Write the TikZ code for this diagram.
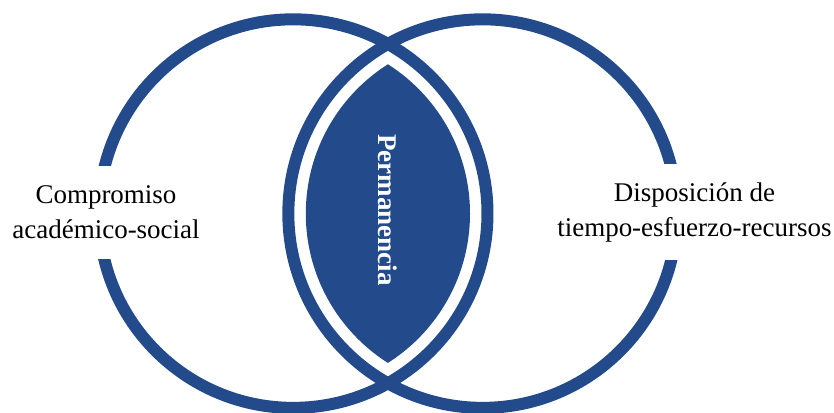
\documentclass[tikz,border=0pt]{standalone}
\usepackage{fontspec}
\setmainfont{Liberation Serif}
\usetikzlibrary{positioning}
\definecolor{perm}{HTML}{234B8C}

\begin{document}
\begin{tikzpicture}
  \useasboundingbox (0,0) rectangle (20.85,10.3);
  \coordinate (cL) at (7.33,4.96);
  \coordinate (cR) at (12.065,4.96);

  % the two rings
  \draw[perm,line width=0.3cm] (cL) circle (4.857);
  \draw[perm,line width=0.3cm] (cR) circle (4.857);

  % lens in the middle
  \begin{scope}
    \clip (cL) circle (4.42);
    \fill[perm] (cR) circle (4.42);
  \end{scope}
  \node[rotate=-90,text=white,font=\fontsize{19.2}{24}\selectfont\bfseries] (permanencia) at (9.70,5.05) {Permanencia};

  % labels on the rings
  \node[fill=white,align=center,inner xsep=2pt,inner ysep=0.49cm,font=\fontsize{19.2}{24.9}\selectfont] (compromiso) at (2.65,4.99) {Compromiso\\académico-social};
  \node[fill=white,align=center,inner xsep=2pt,inner ysep=0.46cm,font=\fontsize{19.2}{24.9}\selectfont] (disposicion) at (17.36,5.0) {Disposición de\\tiempo-esfuerzo-recursos};
\end{tikzpicture}
\end{document}
